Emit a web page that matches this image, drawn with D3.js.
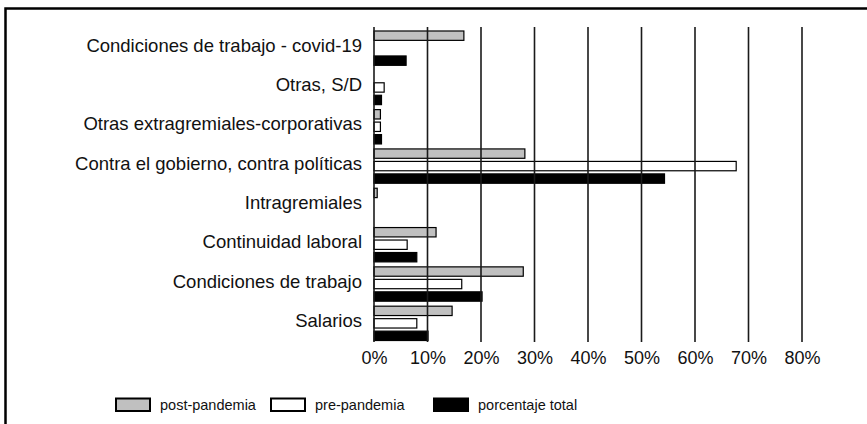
<!DOCTYPE html>
<html>
<head>
<meta charset="utf-8">
<script src="https://cdn.jsdelivr.net/npm/d3@7"></script>
<style>
  body { margin: 0; background: #fff; }
  svg { display: block; font-family: "Liberation Sans", Arial, Helvetica, sans-serif; }
</style>
</head>
<body>
<svg id="vis" width="867" height="424"></svg>
<script>
// chart data, values in percent
const categories = [
    "Condiciones de trabajo - covid-19",
    "Otras, S/D",
    "Otras extragremiales-corporativas",
    "Contra el gobierno, contra políticas",
    "Intragremiales",
    "Continuidad laboral",
    "Condiciones de trabajo",
    "Salarios"
];
const seriesNames = ["post-pandemia", "pre-pandemia", "porcentaje total"];
const postPandemia = [16.8, 0, 1.2, 28.2, 0.6, 11.6, 27.9, 14.6];
const prePandemia = [0, 1.9, 1.2, 67.7, 0, 6.2, 16.4, 8.0];
const porcentajeTotal = [6.0, 1.4, 1.4, 54.3, 0, 8.0, 20.2, 10.1];
const xTicks = [0, 10, 20, 30, 40, 50, 60, 70, 80];

const seriesFill = {
    "post-pandemia": "#c0c0c0",
    "pre-pandemia": "#ffffff",
    "porcentaje total": "#000000"
};

const svg = d3.select('#vis');

// outer frame (cut by the picture on right and bottom)
svg.append("rect")
    .attr("x", 5.5)
    .attr("y", 8.5)
    .attr("width", 900)
    .attr("height", 450)
    .attr("fill", "none")
    .attr("stroke", "#000")
    .attr("stroke-width", 2.5);

var x = d3.scaleLinear().domain([0, 80]).range([374, 802]);
var y0 = d3.scaleBand().domain(categories).range([28.5, 343]);
var y1 = d3.scaleBand().domain(seriesNames)
    .range([0, y0.bandwidth()])
    .paddingInner(0.25)
    .paddingOuter(0.2);

// rows for the bars
var rows = [];
categories.forEach(function (c, i) {
    rows.push({cat: c, s: "post-pandemia", v: postPandemia[i]});
    rows.push({cat: c, s: "pre-pandemia", v: prePandemia[i]});
    rows.push({cat: c, s: "porcentaje total", v: porcentajeTotal[i]});
});

svg.selectAll(".bar")
    .data(rows.filter(function (d) { return d.v > 0; }))
    .enter().append("rect")
    .attr("class", "bar")
    .attr("x", x(0))
    .attr("y", function (d) { return y0(d.cat) + y1(d.s); })
    .attr("width", function (d) { return x(d.v) - x(0); })
    .attr("height", y1.bandwidth())
    .attr("fill", function (d) { return seriesFill[d.s]; })
    .attr("stroke", "#000")
    .attr("stroke-width", 1.2);

// vertical grid lines, drawn over the bars
svg.selectAll(".grid")
    .data(xTicks)
    .enter().append("line")
    .attr("class", "grid")
    .attr("x1", function (d) { return x(d); })
    .attr("x2", function (d) { return x(d); })
    .attr("y1", 27)
    .attr("y2", 342)
    .attr("stroke", "#1a1a1a")
    .attr("stroke-width", 1.6);

// x tick labels
var xAxis = svg.append("g")
    .attr("transform", "translate(0,342)")
    .call(d3.axisBottom(x).tickValues(xTicks).tickSize(0).tickPadding(9)
        .tickFormat(function (d) { return d + "%"; }));
xAxis.select(".domain").remove();
xAxis.selectAll("text")
    .attr("font-family", "Liberation Sans, Arial, sans-serif")
    .attr("font-size", 18)
    .attr("fill", "#111");

// category labels
var yAxis = svg.append("g")
    .attr("transform", "translate(362,0)")
    .call(d3.axisLeft(y0).tickSize(0).tickPadding(0));
yAxis.select(".domain").remove();
yAxis.selectAll("text")
    .attr("font-family", "Liberation Sans, Arial, sans-serif")
    .attr("font-size", 18.5)
    .attr("fill", "#111")
    .attr("dy", "0.2em");

// legend
const legendX = [116, 271, 434];
var legend = svg.selectAll(".legend")
    .data(seriesNames)
    .enter().append("g")
    .attr("class", "legend")
    .attr("transform", function (d, i) {
        return "translate(" + legendX[i] + ",398.5)";
    });

legend.append("rect")
    .attr("width", 34)
    .attr("height", 12.5)
    .attr("fill", function (d) { return seriesFill[d]; })
    .attr("stroke", "#000")
    .attr("stroke-width", 2);

legend.append("text")
    .attr("x", 44)
    .attr("y", 11.5)
    .attr("font-size", 14.5)
    .attr("fill", "#111")
    .text(function (d) { return d; });
</script>
</body>
</html>
